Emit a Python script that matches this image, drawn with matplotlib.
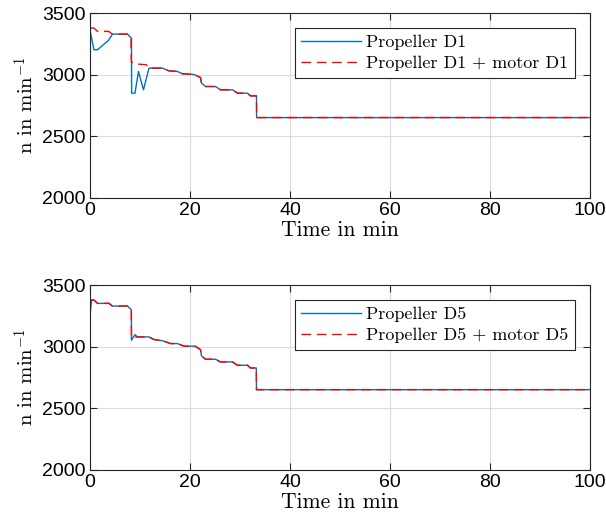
import matplotlib
matplotlib.use("Agg")
import matplotlib.pyplot as plt

plt.rcParams['mathtext.fontset'] = 'cm'
plt.rcParams['font.family'] = 'Liberation Sans'

# --- data: propeller D1 / D1 + motor D1 ---
t_d1 = [0, 0.8, 1.5, 3.7, 4.5, 7.5, 8.1, 8.3, 8.33, 9.0, 9.7, 10.7, 11.8, 14.5,
        15.8, 17.5, 18.5, 20.8, 22.1, 22.3, 23.1, 25.1, 26.1, 28.5, 29.5, 31.5,
        32.1, 33.3, 33.33, 100]
n_d1 = [3359, 3202, 3202, 3278, 3329, 3329, 3302, 3297, 2850, 2850, 3026, 2877,
        3053, 3053, 3031, 3026, 3007, 3002, 2977, 2931, 2904, 2904, 2877, 2877,
        2850, 2850, 2828, 2828, 2652, 2652]
t_d1m = [0, 0.8, 1.5, 3.7, 4.5, 7.5, 8.2, 8.27, 9.0, 11.3, 11.8, 14.5, 15.8, 17.5,
         18.5, 20.8, 22.1, 22.3, 23.1, 25.1, 26.1, 28.5, 29.5, 31.5, 32.1, 33.3,
         33.33, 100]
n_d1m = [3378, 3378, 3351, 3351, 3329, 3329, 3302, 3102, 3088, 3080, 3053, 3053,
         3031, 3026, 3007, 3002, 2977, 2931, 2904, 2904, 2877, 2877, 2850, 2850,
         2828, 2828, 2652, 2652]

# --- data: propeller D5 / D5 + motor D5 ---
t_d5 = [0, 0.33, 0.8, 1.5, 3.8, 4.5, 7.5, 8.0, 8.27, 8.3, 9.0, 9.5, 11.8, 12.8,
        14.6, 16.1, 17.5, 18.8, 21.0, 22.1, 22.3, 23.1, 25.1, 26.1, 28.5, 29.5,
        31.5, 32.1, 33.27, 33.3, 100]
n_d5 = [3256, 3378, 3378, 3351, 3351, 3329, 3329, 3310, 3297, 3052, 3098, 3079,
        3079, 3058, 3047, 3025, 3025, 3004, 3004, 2976, 2925, 2898, 2898, 2876,
        2876, 2849, 2849, 2827, 2827, 2651, 2651]
t_d5m = [0, 0.8, 1.5, 3.8, 4.5, 7.5, 8.0, 8.27, 8.3, 9.5, 11.8, 12.8, 14.6, 16.1,
         17.5, 18.8, 21.0, 22.1, 22.3, 23.1, 25.1, 26.1, 28.5, 29.5, 31.5, 32.1,
         33.27, 33.3, 100]
n_d5m = [3378, 3378, 3351, 3351, 3329, 3329, 3310, 3297, 3074, 3079, 3079, 3058,
         3047, 3025, 3025, 3004, 3004, 2976, 2925, 2898, 2898, 2876, 2876, 2849,
         2849, 2827, 2827, 2651, 2651]

panels = [
    (t_d1, n_d1, t_d1m, n_d1m, "Propeller D1", "Propeller D1 + motor D1"),
    (t_d5, n_d5, t_d5m, n_d5m, "Propeller D5", "Propeller D5 + motor D5"),
]

blue = "#0072BD"
red = "#FF0000"
serif = "cmr10"

fig = plt.figure(figsize=(6.06, 5.27), dpi=100)
ax_pos = [[0.1485, 0.6243, 0.825, 0.351], [0.1485, 0.1082, 0.825, 0.351]]

for pos, (tb, nb, tr, nr, lb, lr) in zip(ax_pos, panels):
    ax = fig.add_axes(pos)
    ax.plot(tb, nb, color=blue, lw=1.0, label=lb)
    ax.plot(tr, nr, color=red, lw=1.0, ls=(0, (7, 4)), label=lr)
    ax.set_xlim(0, 100)
    ax.set_ylim(2000, 3500)
    ax.set_xticks([0, 20, 40, 60, 80, 100])
    ax.set_yticks([2000, 2500, 3000, 3500])
    ax.grid(True, color="#dcdcdc", lw=0.8)
    ax.set_axisbelow(True)
    ax.tick_params(direction="in", top=True, right=True, length=5, width=0.8,
                   labelsize=14, color="#262626", pad=3)
    for sp in ax.spines.values():
        sp.set_color("#262626")
        sp.set_linewidth(0.8)
    ax.set_xlabel("Time in min", fontfamily=serif, fontsize=15.5, labelpad=1)
    ax.set_ylabel(r"n in min$^{-1}$", fontfamily=serif, fontsize=15, labelpad=3)
    leg = ax.legend(loc="upper right", prop={"family": serif, "size": 13},
                    fancybox=False, edgecolor="#262626", framealpha=1,
                    handlelength=3.3, borderaxespad=0.85, borderpad=0.35,
                    labelspacing=0.3, handletextpad=0.3)
    leg.get_frame().set_linewidth(0.8)

fig.savefig("out.png", dpi=100)
